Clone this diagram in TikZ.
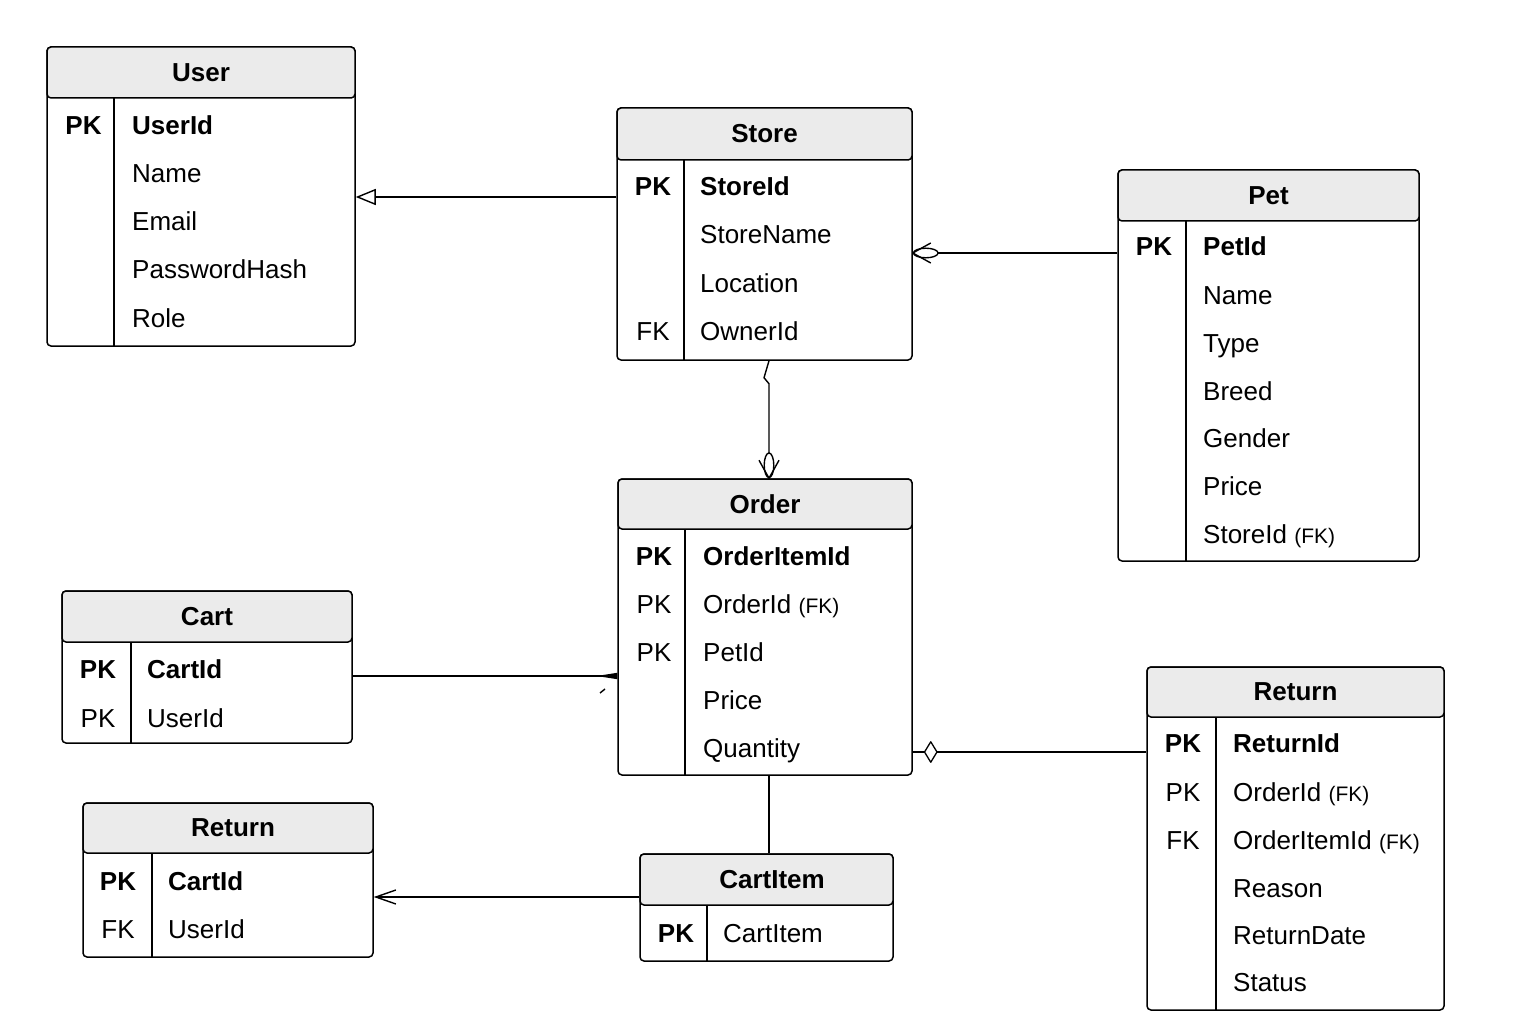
\documentclass[tikz,border=0pt]{standalone}
\usepackage{fontspec}
\setmainfont{Liberation Sans}
\usepackage{xcolor}
\usetikzlibrary{arrows.meta}
\usetikzlibrary{shapes.geometric}
\definecolor{hdrgray}{RGB}{235,235,235}
\newcommand{\fktag}{{\fontsize{21}{25}\selectfont(FK)}}
\tikzset{
    entity/.style={shape=rectangle, draw=black, line width=1.5pt, rounded corners=4pt, inner sep=0pt},
    entityhead/.style={entity, fill=hdrgray, anchor=north, font=\fontsize{26}{31}\selectfont\bfseries},
    keycol/.style={anchor=base, inner sep=0pt, font=\fontsize{26}{31}\selectfont},
    pkey/.style={keycol, font=\fontsize{26}{31}\selectfont\bfseries},
    attr/.style={anchor=base west, inner sep=0pt, font=\fontsize{26}{31}\selectfont},
    pattr/.style={attr, font=\fontsize{26}{31}\selectfont\bfseries},
    divider/.style={line width=1.5pt},
    conn/.style={draw=black, line width=1.4pt, line join=round},
    droptip/.style={-{Ellipse[open,length=26pt,width=11pt]}},
    starmark/.style={shape=diamond, draw=black, fill=white, line width=1.3pt, minimum width=13pt, minimum height=21pt, inner sep=0pt}
}

\begin{document}
\begin{tikzpicture}[x=1pt, y=-1pt]

            \useasboundingbox (0,0) rectangle (1536,1024);

            % User
            \node[entity, minimum width=308pt, minimum height=299pt] (user) at (201,196.5) {};
            \node[entityhead, minimum width=308pt, minimum height=51pt] (userHead) at (user.north) {User};
            \draw[divider] (114,98) -- (114,346);
            \node[pkey] (userK1) at (83.5,135) {PK};
            \node[pattr] (userA1) at (132,135) {UserId};
            \node[attr] (userA2) at (132,183) {Name};
            \node[attr] (userA3) at (132,231) {Email};
            \node[attr] (userA4) at (132,279) {PasswordHash};
            \node[attr] (userA5) at (132,327) {Role};

            % Store
            \node[entity, minimum width=295pt, minimum height=252pt] (store) at (764.5,234) {};
            \node[entityhead, minimum width=295pt, minimum height=52pt] (storeHead) at (store.north) {Store};
            \draw[divider] (684,160) -- (684,360);
            \node[pkey] (storeK1) at (653,196) {PK};
            \node[keycol] (storeK4) at (653,340) {FK};
            \node[pattr] (storeA1) at (700,196) {StoreId};
            \node[attr] (storeA2) at (700,244) {StoreName};
            \node[attr] (storeA3) at (700,292) {Location};
            \node[attr] (storeA4) at (700,340) {OwnerId};

            % Pet
            \node[entity, minimum width=301pt, minimum height=391pt] (pet) at (1268.5,365.5) {};
            \node[entityhead, minimum width=301pt, minimum height=51pt] (petHead) at (pet.north) {Pet};
            \draw[divider] (1186,221) -- (1186,561);
            \node[pkey] (petK1) at (1154,256) {PK};
            \node[pattr] (petA1) at (1203,256) {PetId};
            \node[attr] (petA2) at (1203,304) {Name};
            \node[attr] (petA3) at (1203,352) {Type};
            \node[attr] (petA4) at (1203,400) {Breed};
            \node[attr] (petA5) at (1203,447) {Gender};
            \node[attr] (petA6) at (1203,495) {Price};
            \node[attr] (petA7) at (1203,543) {StoreId \fktag};

            % Order
            \node[entity, minimum width=294pt, minimum height=296pt] (order) at (765,627) {};
            \node[entityhead, minimum width=294pt, minimum height=50pt] (orderHead) at (order.north) {Order};
            \draw[divider] (685,529) -- (685,775);
            \node[pkey] (orderK1) at (654,565) {PK};
            \node[keycol] (orderK2) at (654,613) {PK};
            \node[keycol] (orderK3) at (654,661) {PK};
            \node[pattr] (orderA1) at (703,565) {OrderItemId};
            \node[attr] (orderA2) at (703,613) {OrderId \fktag};
            \node[attr] (orderA3) at (703,661) {PetId};
            \node[attr] (orderA4) at (703,709) {Price};
            \node[attr] (orderA5) at (703,757) {Quantity};

            % Cart
            \node[entity, minimum width=290pt, minimum height=152pt] (cart) at (207,667) {};
            \node[entityhead, minimum width=290pt, minimum height=51pt] (cartHead) at (cart.north) {Cart};
            \draw[divider] (131,642) -- (131,743);
            \node[pkey] (cartK1) at (98,678) {PK};
            \node[keycol] (cartK2) at (98,727) {PK};
            \node[pattr] (cartA1) at (147,678) {CartId};
            \node[attr] (cartA2) at (147,727) {UserId};

            % Return (left)
            \node[entity, minimum width=290pt, minimum height=154pt] (retL) at (228,880) {};
            \node[entityhead, minimum width=290pt, minimum height=50pt] (retLHead) at (retL.north) {\hspace*{10pt}Return};
            \draw[divider] (152,853) -- (152,957);
            \node[pkey] (retLK1) at (118,890) {PK};
            \node[keycol] (retLK2) at (118,938) {FK};
            \node[pattr] (retLA1) at (168,890) {CartId};
            \node[attr] (retLA2) at (168,938) {UserId};

            % CartItem
            \node[entity, minimum width=253pt, minimum height=107pt] (cartItem) at (766.5,907.5) {};
            \node[entityhead, minimum width=253pt, minimum height=51pt] (cartItemHead) at (cartItem.north) {\hspace*{11pt}CartItem};
            \draw[divider] (707,905) -- (707,961);
            \node[pkey] (cartItemK1) at (676,942) {PK};
            \node[attr] (cartItemA1) at (723,942) {CartItem};

            % Return (right)
            \node[entity, minimum width=297pt, minimum height=343pt] (retR) at (1295.5,838.5) {};
            \node[entityhead, minimum width=297pt, minimum height=50pt] (retRHead) at (retR.north) {Return};
            \draw[divider] (1216,717) -- (1216,1010);
            \node[pkey] (retRK1) at (1183,752) {PK};
            \node[keycol] (retRK2) at (1183,801) {PK};
            \node[keycol] (retRK3) at (1183,849) {FK};
            \node[pattr] (retRA1) at (1233,752) {ReturnId};
            \node[attr] (retRA2) at (1233,801) {OrderId \fktag};
            \node[attr] (retRA3) at (1233,849) {OrderItemId \fktag};
            \node[attr] (retRA4) at (1233,897) {Reason};
            \node[attr] (retRA5) at (1233,944) {ReturnDate};
            \node[attr] (retRA6) at (1233,991) {Status};

            % connectors
            \coordinate (storeIn) at (store.east |- 0,253);
            \coordinate (orderIn) at (order.north -| 769,0);
            \draw[conn, -{Triangle[open,length=20pt,width=16pt]}] (store.west |- 0,197) -- (user.east |- 0,197);
            \draw[conn, droptip] (pet.west |- 0,253) -- (storeIn);
            \draw[conn] ([shift={(18,-10)}]storeIn) -- (storeIn) -- ([shift={(18,10)}]storeIn);
            \draw[conn, droptip] (store.south -| 769,0) -- ++(-5,17) -- ++(5,6) -- (orderIn);
            \draw[conn] ([shift={(-10,-18)}]orderIn) -- (orderIn) -- ([shift={(10,-18)}]orderIn);
            \draw[conn, -{Triangle[reversed,length=21pt,width=6pt]}] (cart.east |- 0,676) -- (order.west |- 0,676);
            \draw[conn] (600,693) -- (605,689);
            \draw[conn] (retR.west |- 0,752) -- (order.east |- 0,752) node[starmark, at end, xshift=18pt] (orderStar) {};
            \draw[conn, -{Straight Barb[length=20pt,width=14pt]}] (cartItem.west |- 0,897) -- (retL.east |- 0,897);
            \draw[conn] (order.south -| 769,0) -- (cartItem.north -| 769,0);

        \end{tikzpicture}
\end{document}
